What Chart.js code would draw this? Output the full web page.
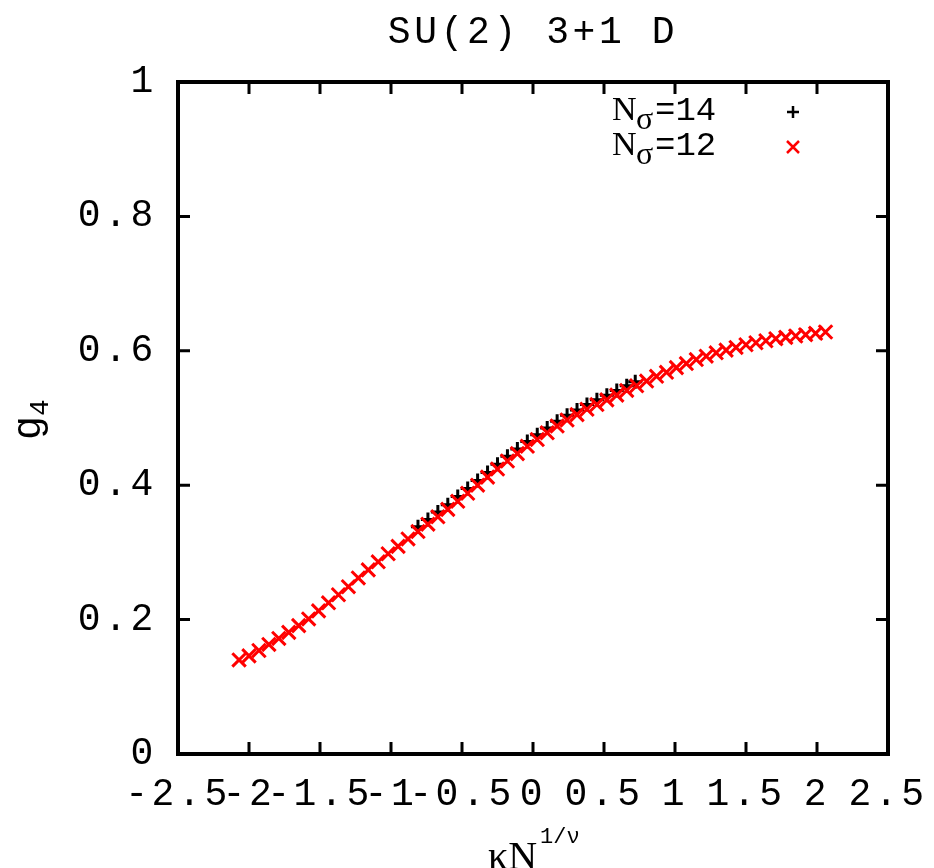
<!DOCTYPE html>
<html>
<head>
<meta charset="utf-8">
<script src="https://cdn.jsdelivr.net/npm/chart.js@4.4.0/dist/chart.umd.min.js"></script>
<style>
body { margin: 0; background: #fff; }
canvas { display: block; }
</style>
</head>
<body>
<canvas id="g4Chart" width="934" height="868"></canvas>
<script>
// textos y etiquetas
const titleText = 'SU(2) 3+1 D';
const xTickLabels = ['-2.5', '-2', '-1.5', '-1', '-0.5', '0', '0.5', '1', '1.5', '2', '2.5'];
const yTickLabels = ['0', '0.2', '0.4', '0.6', '0.8', '1'];
const nSigma = [14, 12];

// N_sigma = 12 (cruces rojas)
const x12 = [-2.07, -2.00, -1.93, -1.86, -1.79, -1.72, -1.65, -1.58, -1.51, -1.44,
             -1.37, -1.30, -1.23, -1.16, -1.09, -1.02, -0.95, -0.88, -0.81, -0.74,
             -0.67, -0.60, -0.53, -0.46, -0.39, -0.32, -0.25, -0.18, -0.11, -0.04,
              0.03,  0.10,  0.17,  0.24,  0.31,  0.38,  0.45,  0.52,  0.59,  0.66,
              0.73,  0.80,  0.87,  0.94,  1.01,  1.08,  1.15,  1.22,  1.29,  1.36,
              1.43,  1.50,  1.57,  1.64,  1.71,  1.78,  1.85,  1.92,  1.99,  2.06];
const g12 = [0.140, 0.146, 0.154, 0.163, 0.172, 0.181, 0.191, 0.201, 0.213, 0.225,
             0.237, 0.249, 0.262, 0.274, 0.286, 0.298, 0.309, 0.320, 0.331, 0.342,
             0.353, 0.364, 0.376, 0.388, 0.400, 0.412, 0.424, 0.436, 0.447, 0.458,
             0.468, 0.478, 0.488, 0.497, 0.505, 0.513, 0.520, 0.527, 0.534, 0.541,
             0.548, 0.555, 0.562, 0.568, 0.575, 0.581, 0.587, 0.592, 0.597, 0.601,
             0.605, 0.609, 0.612, 0.615, 0.618, 0.620, 0.622, 0.624, 0.626, 0.628];

// N_sigma = 14 (cruces negras, casi tapadas por las rojas)
const x14 = [-0.81, -0.74, -0.67, -0.60, -0.53, -0.46, -0.39, -0.32, -0.25, -0.18,
             -0.11, -0.04,  0.03,  0.10,  0.17,  0.24,  0.31,  0.38,  0.45,  0.52,
              0.59,  0.66,  0.72];
const g14 = [0.338, 0.349, 0.360, 0.371, 0.383, 0.395, 0.407, 0.419, 0.431, 0.443,
             0.454, 0.465, 0.475, 0.485, 0.495, 0.504, 0.512, 0.520, 0.527, 0.534,
             0.541, 0.548, 0.554];

const monoFont = 'Liberation Mono';
const serifFont = 'Liberation Serif';

const toPoints = (xs, ys) => xs.map((x, i) => ({ x: x, y: ys[i] }));

// marco, marcas hacia dentro, titulo y leyenda al estilo gnuplot
const gnuplotFrame = {
    id: 'gnuplotFrame',
    beforeDraw(chart) {
        chart.ctx.letterSpacing = '3.6px';
    },
    afterDraw(chart) {
        const ctx = chart.ctx;
        const a = chart.chartArea;
        const sx = chart.scales.x;
        const sy = chart.scales.y;
        ctx.save();
        ctx.strokeStyle = '#000';
        ctx.lineWidth = 3;
        ctx.beginPath();
        sx.ticks.forEach(t => {
            const px = sx.getPixelForValue(t.value);
            ctx.moveTo(px, a.bottom); ctx.lineTo(px, a.bottom - 12);
            ctx.moveTo(px, a.top); ctx.lineTo(px, a.top + 12);
        });
        sy.ticks.forEach(t => {
            const py = sy.getPixelForValue(t.value);
            ctx.moveTo(a.left, py); ctx.lineTo(a.left + 12, py);
            ctx.moveTo(a.right, py); ctx.lineTo(a.right - 12, py);
        });
        ctx.stroke();
        ctx.lineWidth = 4;
        ctx.strokeRect(a.left, a.top, a.right - a.left, a.bottom - a.top);

        // titulo
        ctx.fillStyle = '#000';
        ctx.textAlign = 'center';
        ctx.textBaseline = 'alphabetic';
        ctx.font = '38px "' + monoFont + '"';
        ctx.fillText(titleText, (a.left + a.right) / 2, 43);

        ctx.letterSpacing = '0px';
        ctx.textAlign = 'left';

        // eje x: kappa N^(1/nu)
        ctx.font = '40px "' + serifFont + '"';
        ctx.fillText('\u03baN', 488, 869);
        ctx.font = '22px "' + monoFont + '"';
        ctx.fillText('1/\u03bd', 540, 843);

        // eje y: g_4
        ctx.save();
        ctx.translate(40, 440);
        ctx.rotate(-Math.PI / 2);
        ctx.font = '40px "' + monoFont + '"';
        ctx.fillText('g', 0, 0);
        const gw = ctx.measureText('g').width;
        ctx.font = '28px "' + monoFont + '"';
        ctx.fillText('4', gw, 8);
        ctx.restore();

        // leyenda
        const rows = [
            { n: nSigma[0], base: 120, color: '#000', style: 'plus' },
            { n: nSigma[1], base: 155, color: '#ff0000', style: 'x' }
        ];
        rows.forEach(r => {
            ctx.fillStyle = '#000';
            ctx.font = '34px "' + serifFont + '"';
            ctx.fillText('N', 612, r.base);
            ctx.font = '32px "' + serifFont + '"';
            ctx.fillText('\u03c3', 636, r.base + 9);
            ctx.font = '34px "' + monoFont + '"';
            ctx.fillText('=' + r.n, 655, r.base);

            const cx = 793, cy = r.base - 8;
            ctx.strokeStyle = r.color;
            ctx.lineWidth = 2.5;
            ctx.beginPath();
            if (r.style === 'plus') {
                ctx.moveTo(cx - 6, cy); ctx.lineTo(cx + 6, cy);
                ctx.moveTo(cx, cy - 6); ctx.lineTo(cx, cy + 6);
            } else {
                ctx.moveTo(cx - 6, cy - 6); ctx.lineTo(cx + 6, cy + 6);
                ctx.moveTo(cx - 6, cy + 6); ctx.lineTo(cx + 6, cy - 6);
            }
            ctx.stroke();
        });
        ctx.restore();
    }
};

new Chart(document.getElementById('g4Chart'), {
    type: 'scatter',
    data: {
        datasets: [
            {
                label: 'N_sigma=' + nSigma[1],
                data: toPoints(x12, g12),
                pointStyle: 'crossRot',
                pointRadius: 9.5,
                pointBorderWidth: 3,
                borderColor: '#ff0000',
                backgroundColor: '#ff0000',
                showLine: false,
                order: 0
            },
            {
                label: 'N_sigma=' + nSigma[0],
                data: toPoints(x14, g14),
                pointStyle: 'cross',
                pointRadius: 7,
                pointBorderWidth: 3,
                borderColor: '#000',
                backgroundColor: '#000',
                showLine: false,
                order: 1
            }
        ]
    },
    options: {
        responsive: false,
        animation: false,
        devicePixelRatio: 1,
        layout: { padding: { top: 82, right: 46, bottom: 0, left: 0 } },
        plugins: {
            legend: { display: false },
            tooltip: { enabled: false },
            title: { display: false }
        },
        scales: {
            x: {
                type: 'linear',
                min: -2.5,
                max: 2.5,
                grid: { display: false },
                border: { display: false },
                ticks: {
                    stepSize: 0.5,
                    autoSkip: false,
                    maxRotation: 0,
                    padding: 10,
                    color: '#000',
                    font: { family: monoFont, size: 38 },
                    callback: (v, i) => xTickLabels[i]
                },
                afterFit: s => { s.height = 114; }
            },
            y: {
                type: 'linear',
                min: 0,
                max: 1,
                grid: { display: false },
                border: { display: false },
                ticks: {
                    stepSize: 0.2,
                    padding: 13,
                    color: '#000',
                    font: { family: monoFont, size: 38 },
                    callback: (v, i) => yTickLabels[i]
                },
                afterFit: s => { s.width = 178; }
            }
        }
    },
    plugins: [gnuplotFrame]
});
</script>
</body>
</html>
